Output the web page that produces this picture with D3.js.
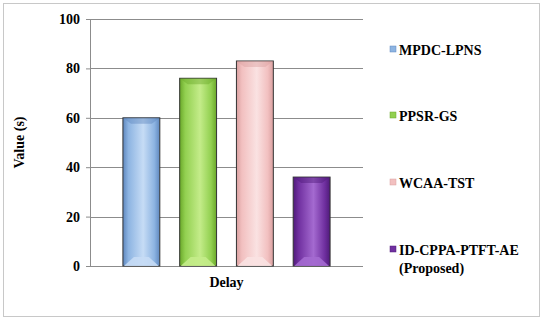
<!DOCTYPE html>
<html>
<head>
<meta charset="utf-8">
<script src="https://cdn.jsdelivr.net/npm/d3@7"></script>
<style>
  body { margin: 0; background: #fff; }
  svg text { font-family: "Liberation Serif", "DejaVu Serif", serif !important; font-weight: bold; }
</style>
</head>
<body>
<div id="chart"></div>
<script>
// chart data
const methods = ['MPDC-LPNS', 'PPSR-GS', 'WCAA-TST', 'ID-CPPA-PTFT-AE (Proposed)']
const delays = [60, 76, 83, 36]
const yTicks = [0, 20, 40, 60, 80, 100]
const barColors = ['#8db4e2', '#92d050', '#f2c0c0', '#7030a0']
const barLight = ['#c6dcf5', '#c4ec8a', '#fae2e2', '#a46ad0']
const barDark = ['#5f88bf', '#6aa82a', '#d9a0a0', '#4f1a7a']

const width = 542
	, height = 321
	, margin = { left: 90, right: 179, top: 19, bottom: 55 }
	, plotW = width - margin.left - margin.right
	, plotH = height - margin.top - margin.bottom

const svg = d3.select('#chart').append('svg')
	.attr('width', width)
	.attr('height', height)

// outer frame
svg.append('rect')
	.attr('x', 3.5).attr('y', 3.5)
	.attr('width', 536).attr('height', 313)
	.attr('fill', '#fff')
	.attr('stroke', '#c8c8c8')

const y = d3.scaleLinear().domain([0, 100]).range([plotH, 0])
const x = d3.scaleBand().domain(methods).range([0, plotW]).paddingInner(0.35).paddingOuter(0.58)

const defs = svg.append('defs')
methods.forEach((m, i) => {
	const g = defs.append('linearGradient').attr('id', 'grad' + i)
		.attr('x1', '0%').attr('x2', '100%')
	g.append('stop').attr('offset', '0%').attr('stop-color', barDark[i])
	g.append('stop').attr('offset', '15%').attr('stop-color', barColors[i])
	g.append('stop').attr('offset', '55%').attr('stop-color', barLight[i])
	g.append('stop').attr('offset', '85%').attr('stop-color', barColors[i])
	g.append('stop').attr('offset', '100%').attr('stop-color', barDark[i])
})

const plot = svg.append('g').attr('transform', 'translate(' + margin.left + ',' + margin.top + ')')

// gridlines
plot.append('g').selectAll('line')
	.data(yTicks)
	.join('line')
	.attr('x1', 0).attr('x2', plotW)
	.attr('y1', d => Math.round(y(d)) + 0.5).attr('y2', d => Math.round(y(d)) + 0.5)
	.attr('stroke', '#8c8c8c')

// y axis
const yAxis = plot.append('g').call(d3.axisLeft(y).tickValues(yTicks).tickSize(4).tickPadding(6))
yAxis.select('.domain').attr('stroke', '#8c8c8c')
yAxis.selectAll('.tick line').attr('stroke', '#8c8c8c')
yAxis.selectAll('text').style('font-size', '14px').attr('fill', '#000')

// bars
const bars = plot.append('g').selectAll('g')
	.data(methods)
	.join('g')

bars.append('rect')
	.attr('x', d => x(d))
	.attr('y', (d, i) => y(delays[i]))
	.attr('width', x.bandwidth())
	.attr('height', (d, i) => plotH - y(delays[i]))
	.attr('fill', (d, i) => 'url(#grad' + i + ')')
	.attr('stroke', '#333')
	.attr('stroke-width', 1)

// top bevel
bars.append('path')
	.attr('d', (d, i) => {
		const x0 = x(d), x1 = x0 + x.bandwidth(), t = y(delays[i]), b = 6
		return 'M' + x0 + ',' + t + 'L' + x1 + ',' + t + 'L' + (x1 - 8) + ',' + (t + b) + 'L' + (x0 + 8) + ',' + (t + b) + 'Z'
	})
	.attr('fill', (d, i) => barDark[i])
	.attr('opacity', 0.45)

// bottom bevel
bars.append('path')
	.attr('d', (d, i) => {
		const x0 = x(d), x1 = x0 + x.bandwidth(), bt = plotH, b = 9
		return 'M' + (x0 + 1) + ',' + bt + 'L' + (x1 - 1) + ',' + bt + 'L' + (x1 - 11) + ',' + (bt - b) + 'L' + (x0 + 11) + ',' + (bt - b) + 'Z'
	})
	.attr('fill', (d, i) => barLight[i])
	.attr('opacity', 0.9)

// axis titles
plot.append('text')
	.attr('x', plotW / 2).attr('y', plotH + 21)
	.attr('text-anchor', 'middle')
	.style('font-size', '14px')
	.text('Delay')

svg.append('text')
	.attr('transform', 'translate(24,' + (margin.top + plotH / 2) + ') rotate(-90)')
	.attr('text-anchor', 'middle')
	.style('font-size', '14px')
	.text('Value (s)')

// legend
const legendY = [50, 116, 183, 250]
const legend = svg.append('g').selectAll('g')
	.data(methods)
	.join('g')
	.attr('transform', (d, i) => 'translate(390,' + legendY[i] + ')')

legend.append('rect')
	.attr('x', 0).attr('y', -4)
	.attr('width', 6).attr('height', 6)
	.attr('fill', (d, i) => barColors[i])
	.attr('stroke', (d, i) => barDark[i])
	.attr('stroke-width', 0.5)

legend.append('text')
	.attr('x', 9).attr('y', 5)
	.style('font-size', '14px')
	.each(function (d) {
		const parts = d.split(' ')
		const t = d3.select(this)
		parts.forEach((p, j) => {
			t.append('tspan').attr('x', 9).attr('dy', j ? 18 : 0).text(p)
		})
	})
</script>
</body>
</html>
